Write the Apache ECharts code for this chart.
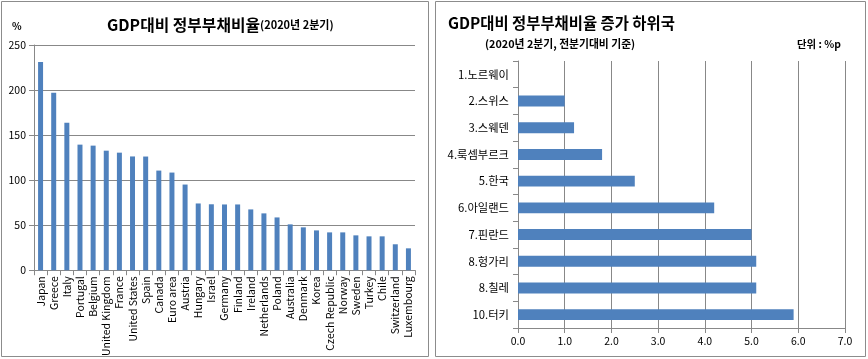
<!DOCTYPE html>
<html><head><meta charset="utf-8">
<script src="https://cdn.jsdelivr.net/npm/echarts@6/dist/echarts.min.js"></script>
<style>html,body{margin:0;padding:0;background:#fff}#c{width:868px;height:359px}</style>
</head><body><div id="c"></div>
<script>
const countries = ['Japan','Greece','Italy','Portugal','Belgium','United Kingdom','France','United States','Spain','Canada','Euro area','Austria','Hungary','Israel','Germany','Finland','Ireland','Netherlands','Poland','Australia','Denmark','Korea','Czech Republic','Norway','Sweden','Turkey','Chile','Switzerland','Luxembourg'];
const debtRatio = [231.2,196.9,163.7,139.4,138.3,132.7,130.5,126.3,126.2,110.6,108.4,95.1,74.1,73.2,73.0,73.0,67.5,63.1,58.6,50.9,47.6,44.2,42.0,42.0,38.7,37.6,37.6,28.8,24.3];
const leftTicks = [0,50,100,150,200,250];
const lowCountries = ['1.노르웨이','2.스위스','3.스웨덴','4.룩셈부르크','5.한국','6.아일랜드','7.핀란드','8.헝가리','8.칠레','10.터키'];
const increase = [0,1.0,1.2,1.8,2.5,4.2,5.0,5.1,5.1,5.9];
const rightTicks = [0,1,2,3,4,5,6,7];

const FONT = '"Noto Sans CJK KR","Noto Sans",sans-serif';
const BLUE = '#4F81BD';
const chart = echarts.init(document.getElementById('c'));
chart.setOption({
  animation:false,
  textStyle:{fontFamily:FONT},
  graphic:[
    {type:'rect',shape:{x:1.5,y:1.5,width:427,height:355},style:{fill:'none',stroke:'#8c8c8c',lineWidth:1},z:-1},
    {type:'rect',shape:{x:435.5,y:1.5,width:430,height:355},style:{fill:'none',stroke:'#8c8c8c',lineWidth:1},z:-1},
    {type:'text',left:107,top:17,style:{rich:{a:{fontSize:15.8,fontWeight:'bold',fontFamily:FONT,fill:'#000'},b:{fontSize:11,fontWeight:'bold',fontFamily:FONT,fill:'#000'}},text:'{a|GDP대비 정부부채비율}{b|(2020년 2분기)}'}},
    {type:'text',left:12,top:21,style:{text:'%',fontSize:10,fontWeight:'bold',fontFamily:FONT,fill:'#000'}},
    {type:'text',left:448,top:15,style:{text:'GDP대비 정부부채비율 증가 하위국',fontSize:15.4,fontWeight:'bold',fontFamily:FONT,fill:'#000'}},
    {type:'text',left:485,top:39,style:{text:'(2020년 2분기, 전분기대비 기준)',fontSize:10.8,fontWeight:'bold',fontFamily:FONT,fill:'#000'}},
    {type:'text',left:797,top:39,style:{text:'단위 : %p',fontSize:10.4,fontWeight:'bold',fontFamily:FONT,fill:'#000'}}
  ],
  grid:[
    {left:34,top:45,width:381,height:226},
    {left:518,top:61,width:327,height:267}
  ],
  xAxis:[
    {type:'category',gridIndex:0,data:countries,
     axisLine:{lineStyle:{color:'#888'}},axisTick:{show:true,alignWithLabel:false,lineStyle:{color:'#888'}},
     axisLabel:{rotate:90,fontSize:10.5,color:'#000',margin:6,interval:0,fontFamily:FONT}},
    {type:'value',gridIndex:1,min:0,max:7,interval:1,
     axisLine:{show:true,lineStyle:{color:'#888'}},axisTick:{show:true,lineStyle:{color:'#888'}},
     splitLine:{show:true,lineStyle:{color:'#888'}},
     axisLabel:{fontSize:10.5,color:'#000',margin:8,formatter:v=>v.toFixed(1),fontFamily:FONT}}
  ],
  yAxis:[
    {type:'value',gridIndex:0,min:0,max:250,interval:50,
     axisLine:{show:true,lineStyle:{color:'#888'}},axisTick:{show:true,lineStyle:{color:'#888'}},
     splitLine:{show:true,lineStyle:{color:'#888'}},
     axisLabel:{fontSize:10.5,color:'#000',margin:8,fontFamily:FONT}},
    {type:'category',gridIndex:1,data:lowCountries,inverse:true,
     axisLine:{show:true,lineStyle:{color:'#888'}},axisTick:{show:true,lineStyle:{color:'#888'}},
     axisLabel:{fontSize:11.3,color:'#000',margin:9,interval:0,fontFamily:FONT}}
  ],
  series:[
    {type:'bar',xAxisIndex:0,yAxisIndex:0,data:debtRatio,barWidth:'38%',itemStyle:{color:BLUE}},
    {type:'bar',xAxisIndex:1,yAxisIndex:1,data:increase,barWidth:'41%',itemStyle:{color:BLUE}}
  ]
});
</script></body></html>
